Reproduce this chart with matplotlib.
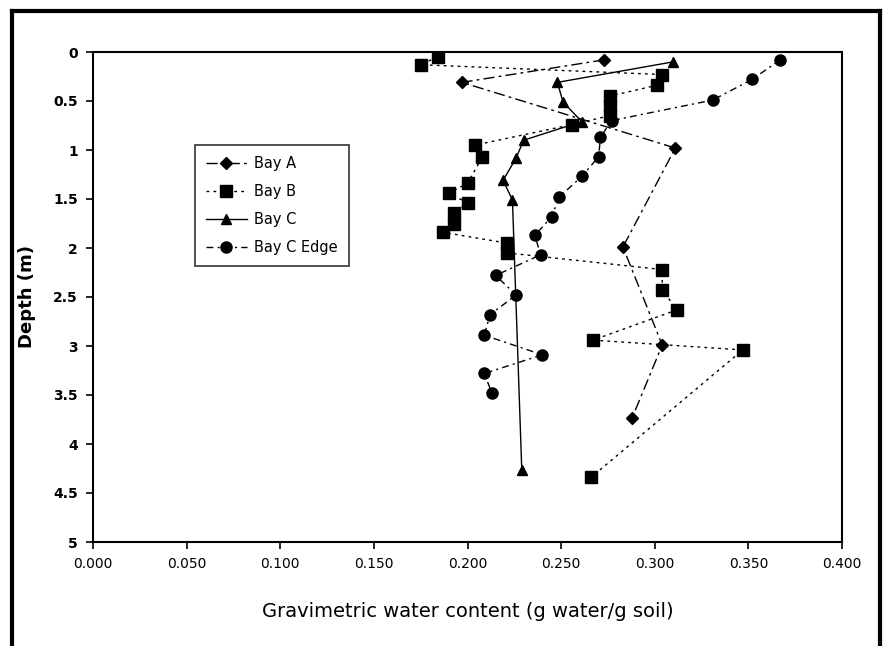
import matplotlib
matplotlib.use("Agg")
import matplotlib.pyplot as plt
from matplotlib.lines import Line2D
import numpy as np

plt.rcParams['font.family'] = ['DejaVu Sans']

# gravimetric water content (g water / g soil) vs depth (m)
bay_a_x = [0.273, 0.197, 0.311, 0.283, 0.304, 0.288]
bay_a_d = [0.08, 0.31, 0.98, 1.99, 2.99, 3.73]

bay_b_x = [0.184, 0.175, 0.304, 0.301, 0.276, 0.276, 0.276, 0.256, 0.204, 0.208,
           0.200, 0.190, 0.200, 0.193, 0.193, 0.187, 0.221, 0.221, 0.304, 0.304,
           0.312, 0.267, 0.347, 0.266]
bay_b_d = [0.05, 0.13, 0.23, 0.34, 0.45, 0.55, 0.65, 0.74, 0.95, 1.07,
           1.34, 1.44, 1.54, 1.64, 1.75, 1.84, 1.95, 2.05, 2.22, 2.43,
           2.63, 2.94, 3.04, 4.34]

bay_c_x = [0.310, 0.248, 0.251, 0.261, 0.230, 0.226, 0.219, 0.224, 0.229]
bay_c_d = [0.10, 0.31, 0.51, 0.71, 0.90, 1.08, 1.31, 1.51, 4.27]

edge_x = [0.367, 0.352, 0.331, 0.277, 0.271, 0.270, 0.261, 0.249, 0.245, 0.236,
          0.239, 0.215, 0.226, 0.212, 0.209, 0.240, 0.209, 0.213]
edge_d = [0.08, 0.28, 0.49, 0.70, 0.87, 1.07, 1.27, 1.48, 1.68, 1.87,
          2.07, 2.28, 2.48, 2.68, 2.89, 3.09, 3.28, 3.48]

x_ticks = np.arange(0, 0.4001, 0.05)
y_ticks = np.arange(0, 5.001, 0.5)
y_labels = ['0', '0.5', '1', '1.5', '2', '2.5', '3', '3.5', '4', '4.5', '5']

fig = plt.figure(figsize=(8.84, 6.46), dpi=100)
ax = fig.add_axes([93/884, 1-542/646, (842-93)/884, (542-52)/646])

ax.plot(bay_a_x, bay_a_d, color='black', lw=1, ls=(0, (8, 3, 2, 3)),
        marker='D', ms=6.5, label='Bay A')
ax.plot(bay_b_x, bay_b_d, color='black', lw=1, ls=(0, (2, 3)),
        marker='s', ms=8.5, label='Bay B')
ax.plot(bay_c_x, bay_c_d, color='black', lw=1, ls='-',
        marker='^', ms=7, label='Bay C')
ax.plot(edge_x, edge_d, color='black', lw=1, ls=(0, (5, 3, 1.5, 3)),
        marker='o', ms=8, label='Bay C Edge')

ax.set_xlim(0, 0.4)
ax.set_ylim(5, 0)
ax.set_xticks(x_ticks)
ax.set_xticklabels(['%.3f' % v for v in x_ticks])
ax.set_yticks(y_ticks)
ax.set_yticklabels(y_labels, fontweight='bold')
ax.tick_params(direction='out', length=5, width=1.2, labelsize=10, pad=6)
for s in ax.spines.values():
    s.set_linewidth(1.5)

ax.set_xlabel('Gravimetric water content (g water/g soil)', fontsize=14, labelpad=22)
ax.set_ylabel('Depth (m)', fontsize=13, fontweight='bold', labelpad=12)

leg = ax.legend(loc='upper left', bbox_to_anchor=((195-93)/749, 1-(145-52)/490),
                borderaxespad=0, frameon=True, fancybox=False, edgecolor='black',
                fontsize=10.5, handlelength=2.8, handletextpad=0.5,
                labelspacing=0.9, borderpad=0.75)
leg.get_frame().set_linewidth(1.2)

# outer frame around the whole figure
fr = dict(color='black', lw=3, transform=fig.transFigure)
fig.add_artist(Line2D([12/884, 12/884], [0, 1-11/646], **fr))
fig.add_artist(Line2D([12/884, 880/884], [1-11/646, 1-11/646], **fr))
fig.add_artist(Line2D([880/884, 880/884], [0, 1-11/646], **fr))

fig.savefig('out.png', dpi=100)
